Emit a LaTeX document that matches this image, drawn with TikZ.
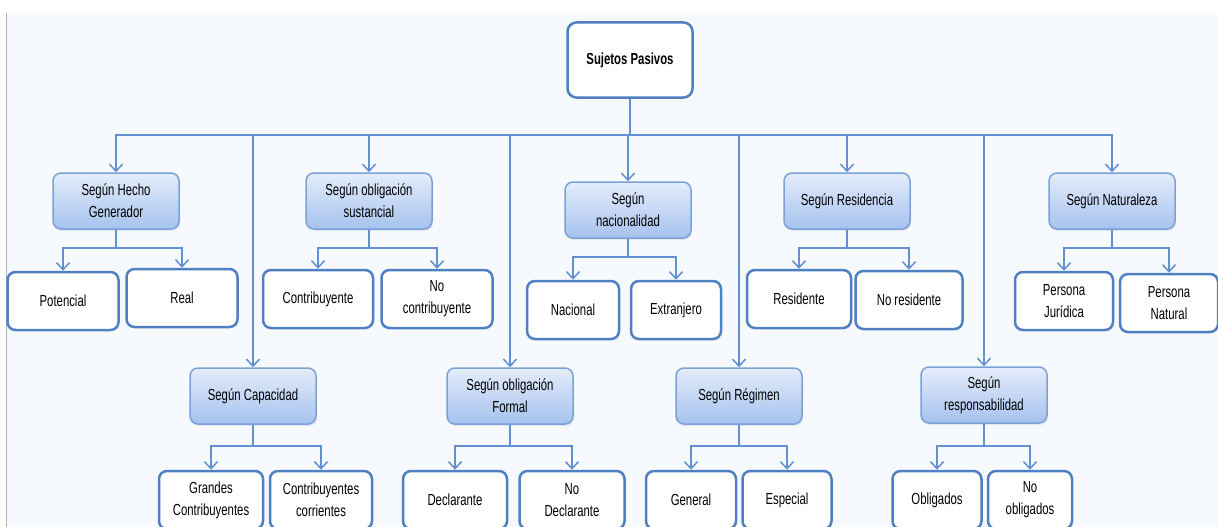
\documentclass[tikz,border=0pt]{standalone}
\usepackage{fontspec}
\setmainfont{Liberation Sans}[FakeStretch=0.71]
\usetikzlibrary{arrows.meta}
\usetikzlibrary{shadows}

\definecolor{bgcol}{HTML}{F6FAFE}
\definecolor{edgecol}{HTML}{4F80C4}
\definecolor{catedge}{HTML}{7BA2D8}
\definecolor{cattop}{HTML}{E4EDFA}
\definecolor{catbot}{HTML}{A6C2EE}
\definecolor{linecol}{HTML}{6290D0}

\tikzset{
  root/.style={draw=edgecol,line width=2.5pt,rounded corners=9pt,fill=white,
    minimum width=125pt,minimum height=75pt,font=\fontsize{16}{22}\selectfont\bfseries},
  cat/.style={draw=catedge,line width=1.5pt,rounded corners=8pt,top color=cattop,bottom color=catbot,
    minimum width=126pt,minimum height=56pt,align=center,font=\fontsize{16}{22}\selectfont,
    drop shadow={opacity=0.15,shadow xshift=1pt,shadow yshift=-2pt}},
  leaf/.style={draw=edgecol,line width=2.5pt,rounded corners=8pt,fill=white,
    minimum height=58pt,align=center,font=\fontsize{16}{22}\selectfont},
  link/.style={draw=linecol,line width=1.5pt,-{Straight Barb[length=7pt,width=13pt,line width=1.5pt]}}
}

\begin{document}
\begin{tikzpicture}[x=1pt,y=-1pt]
      \useasboundingbox (0,0) rectangle (1218,527);
      \clip (0,0) rectangle (1218,527);
      \fill[white] (0,0) rectangle (1218,527);
      \fill[bgcol] (6,13) rectangle (1218,527);
      \draw[gray!60,line width=1pt] (6.5,13) -- (6.5,527);

      % root and bus
      \node[root] (sp) at (630,60) {Sujetos Pasivos};
      \coordinate (bus) at (630,135);
      \draw[draw=linecol,line width=1.5pt] (sp.south) -- (bus);

      % categories
      \node[cat] (hg) at (116,201) {Según Hecho\\Generador};
      \node[cat] (os) at (369,201) {Según obligación\\sustancial};
      \node[cat] (na) at (628,210) {Según\\nacionalidad};
      \node[cat] (re) at (847,201) {Según Residencia};
      \node[cat] (nt) at (1112,201) {Según Naturaleza};
      \node[cat] (ca) at (253,396) {Según Capacidad};
      \node[cat] (of) at (510,396) {Según obligación\\Formal};
      \node[cat] (rg) at (739,396) {Según Régimen};
      \node[cat] (rs) at (984,395) {Según\\responsabilidad};

      \foreach \c in {hg,os,na,re,nt,ca,of,rg,rs}
        \draw[link] (bus) -| (\c.north);

      % leaves
      \node[leaf,minimum width=111pt] (pot) at (63,301) {Potencial};
      \node[leaf,minimum width=111pt] (rea) at (182,298) {Real};
      \node[leaf,minimum width=110pt] (con) at (318,299) {Contribuyente};
      \node[leaf,minimum width=111pt] (ncon) at (437,299) {No\\contribuyente};
      \node[leaf,minimum width=92pt] (nac) at (573,310) {Nacional};
      \node[leaf,minimum width=90pt] (ext) at (676,310) {Extranjero};
      \node[leaf,minimum width=104pt] (res) at (799,299) {Residente};
      \node[leaf,minimum width=107pt] (nres) at (909,300) {No residente};
      \node[leaf,minimum width=98pt] (pj) at (1064,301) {Persona\\Jurídica};
      \node[leaf,minimum width=98pt] (pn) at (1169,303) {Persona\\Natural};
      \node[leaf,minimum width=104pt] (gc) at (211,500) {Grandes\\Contribuyentes};
      \node[leaf,minimum width=102pt] (cc) at (321,500) {Contribuyentes\\corrientes};
      \node[leaf,minimum width=104pt] (dec) at (455,500) {Declarante};
      \node[leaf,minimum width=105pt] (ndec) at (572,500) {No\\Declarante};
      \node[leaf,minimum width=90pt] (gen) at (691,500) {General};
      \node[leaf,minimum width=89pt] (esp) at (787,500) {Especial};
      \node[leaf,minimum width=89pt] (obl) at (937,500) {Obligados};
      \node[leaf,minimum width=84pt] (nobl) at (1030,500) {No\\obligados};

      % category to leaves
      \draw[link] (hg.south) -- ++(0,18) -| (pot.north);
      \draw[link] (hg.south) -- ++(0,18) -| (rea.north);
      \draw[link] (os.south) -- ++(0,18) -| (con.north);
      \draw[link] (os.south) -- ++(0,18) -| (ncon.north);
      \draw[link] (na.south) -- ++(0,18) -| (nac.north);
      \draw[link] (na.south) -- ++(0,18) -| (ext.north);
      \draw[link] (re.south) -- ++(0,18) -| (res.north);
      \draw[link] (re.south) -- ++(0,18) -| (nres.north);
      \draw[link] (nt.south) -- ++(0,18) -| (pj.north);
      \draw[link] (nt.south) -- ++(0,18) -| (pn.north);
      \draw[link] (ca.south) -- ++(0,21) -| (gc.north);
      \draw[link] (ca.south) -- ++(0,21) -| (cc.north);
      \draw[link] (of.south) -- ++(0,21) -| (dec.north);
      \draw[link] (of.south) -- ++(0,21) -| (ndec.north);
      \draw[link] (rg.south) -- ++(0,21) -| (gen.north);
      \draw[link] (rg.south) -- ++(0,21) -| (esp.north);
      \draw[link] (rs.south) -- ++(0,22) -| (obl.north);
      \draw[link] (rs.south) -- ++(0,22) -| (nobl.north);
\end{tikzpicture}
\end{document}
